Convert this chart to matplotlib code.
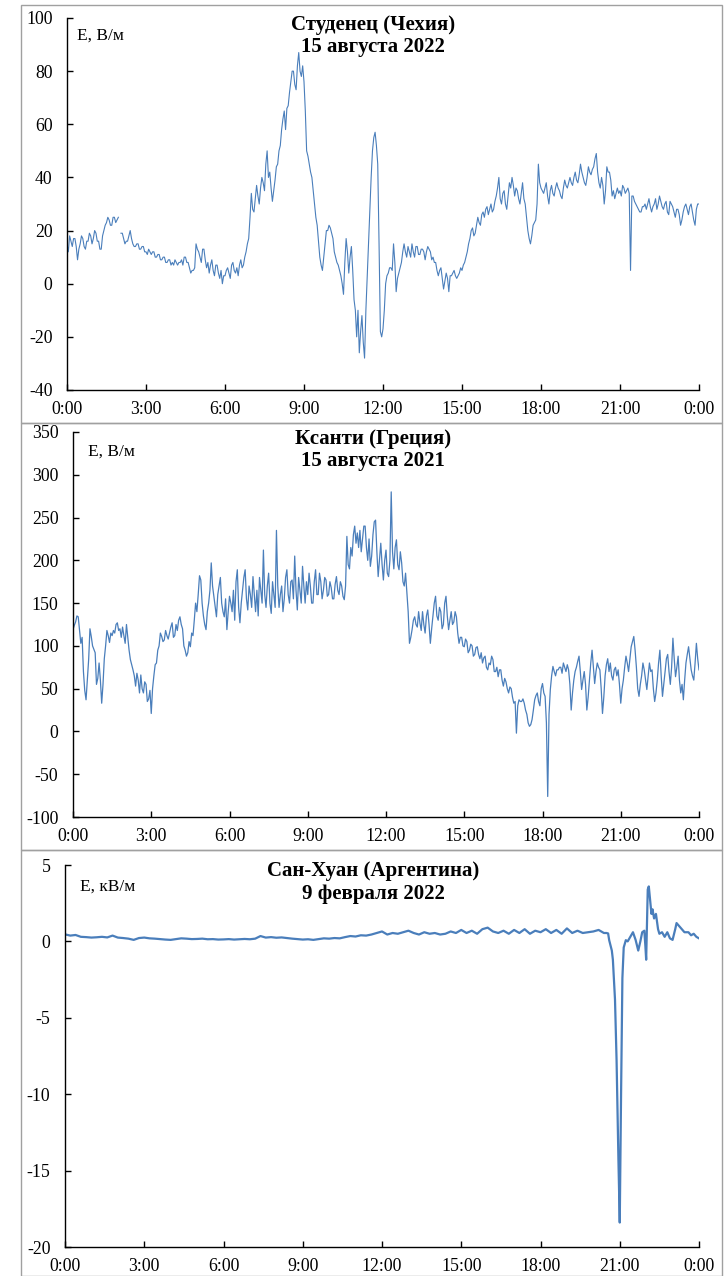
import numpy as np
import matplotlib
matplotlib.use("Agg")
import matplotlib.pyplot as plt
from matplotlib.patches import Rectangle

# ---------------- data ----------------
tick_hours = [0, 3, 6, 9, 12, 15, 18, 21, 24]
tick_labels = ["0:00", "3:00", "6:00", "9:00", "12:00", "15:00", "18:00", "21:00", "0:00"]

# Студенец (В/м), values every 0.05 h (20 per hour) + value at 24:00
studenets = [
    15, 12, 18, 16, 14, 17, 17, 14, 9, 13, 15, 18, 17, 14, 13, 16, 16, 19, 18, 15,
    17, 20, 19, 16, 16, 13, 13, 18, 20, 22, 23, 25, 24, 22, 22, 25, 25, 23, 24, 25,
    np.nan, 19, 19, 17, 15, 16, 16, 18, 20, 17, 15, 14, 14, 15, 15, 13, 13, 14, 14, 12,
    12, 11, 13, 12, 11, 12, 12, 10, 10, 11, 11, 9, 9, 10, 10, 8, 8, 9, 9, 7,
    8, 7, 9, 8, 7, 8, 8, 9, 7, 10, 10, 8, 8, 6, 4, 5, 5, 6, 15, 13,
    12, 10, 8, 13, 13, 9, 6, 8, 4, 7, 9, 5, 3, 7, 7, 4, 2, 5, 0, 3,
    3, 5, 6, 4, 2, 7, 8, 5, 4, 6, 3, 7, 9, 6, 7, 10, 12, 15, 17, 25,
    34, 28, 27, 32, 37, 33, 30, 36, 40, 38, 35, 45, 50, 40, 42, 36, 31, 35, 39, 44,
    45, 50, 52, 58, 62, 65, 58, 66, 67, 72, 76, 80, 80, 75, 73, 82, 87, 80, 78, 82,
    76, 65, 50, 48, 45, 42, 40, 35, 30, 25, 22, 16, 10, 7, 5, 10, 15, 20, 20, 22,
    21, 19, 17, 12, 10, 8, 7, 5, 3, 0, -4, 8, 17, 12, 4, 10, 14, 5, -6, -10,
    -20, -10, -26, -18, -12, -22, -28, -10, 2, 15, 28, 40, 50, 55, 57, 52, 45, 15, -18, -20,
    -17, -10, 0, 3, 4, 6, 6, 5, 15, 8, -3, 2, 4, 6, 8, 12, 15, 12, 10, 14,
    12, 10, 15, 12, 10, 14, 14, 11, 11, 13, 13, 12, 9, 12, 14, 13, 12, 9, 10, 8,
    8, 5, 3, 5, 6, 2, -2, 1, 4, 2, -3, 3, 3, 4, 5, 3, 2, 3, 4, 6,
    5, 7, 8, 10, 12, 15, 17, 20, 21, 18, 19, 22, 25, 23, 22, 26, 27, 25, 28, 29,
    26, 28, 30, 27, 28, 31, 33, 36, 40, 32, 30, 34, 35, 30, 28, 33, 38, 36, 40, 37,
    33, 36, 35, 32, 30, 34, 38, 32, 30, 25, 20, 17, 15, 18, 22, 23, 24, 30, 45, 38,
    36, 35, 34, 36, 38, 33, 30, 35, 37, 34, 33, 36, 38, 36, 35, 33, 32, 36, 39, 37,
    36, 38, 40, 38, 37, 40, 42, 39, 38, 41, 45, 42, 40, 38, 37, 40, 44, 42, 41, 43,
    44, 47, 49, 42, 38, 36, 40, 37, 30, 35, 44, 42, 42, 39, 33, 35, 32, 34, 36, 34,
    35, 33, 37, 36, 34, 35, 36, 34, 5, 33, 33, 31, 30, 29, 28, 27, 27, 29, 29, 30,
    28, 30, 32, 29, 27, 29, 30, 32, 28, 30, 33, 31, 29, 28, 30, 31, 27, 26, 31, 30,
    29, 27, 25, 28, 28, 26, 22, 24, 27, 29, 30, 28, 26, 29, 30, 27, 24, 22, 28, 30,
    30,
]

# Ксанти (В/м), values every 0.05 h (20 per hour) + value at 24:00
xanthi = [
    119, 124, 128, 135, 134, 118, 103, 110, 70, 48, 37, 60, 84, 120, 111, 100, 96, 92, 55, 62,
    80, 60, 33, 55, 85, 100, 118, 112, 104, 115, 112, 118, 115, 125, 127, 118, 120, 110, 122, 112,
    103, 125, 110, 95, 84, 78, 72, 65, 53, 68, 60, 45, 66, 50, 45, 58, 55, 35, 38, 48,
    21, 50, 65, 78, 80, 95, 100, 115, 111, 105, 107, 118, 112, 108, 115, 122, 127, 110, 112, 125,
    118, 130, 134, 125, 120, 100, 95, 88, 92, 105, 99, 115, 112, 130, 150, 140, 160, 182, 177, 150,
    135, 125, 119, 140, 150, 165, 197, 170, 158, 145, 134, 160, 170, 180, 150, 140, 134, 155, 119, 140,
    158, 150, 140, 165, 130, 175, 189, 145, 127, 150, 165, 180, 189, 155, 142, 170, 160, 145, 181, 160,
    140, 165, 135, 180, 165, 150, 212, 160, 145, 170, 185, 150, 138, 175, 160, 145, 235, 170, 145, 160,
    170, 140, 155, 180, 189, 160, 150, 175, 177, 155, 205, 165, 142, 180, 165, 150, 193, 170, 150, 175,
    160, 185, 170, 150, 150, 175, 189, 160, 160, 185, 175, 155, 165, 180, 177, 158, 160, 175, 168, 155,
    155, 172, 181, 165, 160, 175, 170, 158, 154, 170, 228, 195, 190, 215, 205, 230, 240, 220, 232, 215,
    235, 210, 225, 240, 240, 215, 200, 225, 193, 205, 230, 245, 247, 210, 181, 200, 220, 195, 177, 200,
    212, 185, 181, 200, 280, 210, 190, 215, 224, 195, 189, 210, 197, 175, 170, 185, 162, 140, 103, 110,
    119, 130, 134, 125, 122, 140, 127, 118, 140, 125, 115, 135, 142, 125, 103, 120, 135, 150, 158, 135,
    130, 145, 140, 120, 125, 150, 158, 135, 119, 130, 140, 125, 128, 140, 134, 115, 103, 110, 110, 100,
    99, 108, 105, 92, 95, 102, 100, 88, 90, 98, 99, 90, 85, 92, 80, 86, 88, 75, 72, 80,
    78, 88, 84, 70, 70, 75, 64, 72, 72, 60, 53, 62, 58, 50, 45, 52, 50, 40, 33, 35,
    -2, 30, 37, 35, 35, 38, 33, 25, 20, 10, 6, 8, 14, 25, 37, 42, 45, 35, 30, 50,
    56, 45, 41, 10, -76, 20, 49, 65, 76, 70, 65, 72, 72, 75, 75, 68, 80, 75, 70, 78,
    72, 55, 25, 45, 60, 70, 75, 82, 88, 70, 49, 60, 70, 55, 25, 40, 60, 80, 95, 75,
    56, 70, 80, 75, 72, 50, 21, 40, 65, 78, 85, 70, 80, 65, 60, 72, 75, 65, 72, 55,
    33, 50, 60, 75, 88, 80, 70, 85, 99, 105, 111, 95, 75, 50, 41, 55, 65, 80, 72, 60,
    49, 65, 80, 70, 72, 50, 35, 45, 60, 80, 95, 65, 41, 55, 70, 85, 90, 70, 55, 75,
    109, 85, 64, 75, 88, 60, 45, 55, 37, 60, 80, 90, 99, 85, 72, 65, 60, 80, 103, 85,
    72,
]

# Сан-Хуан (кВ/м): quiet part every 0.2 h from 0:00 to 20.4 h
sanjuan_quiet = [
    0.46, 0.38, 0.42, 0.30, 0.28,
    0.25, 0.27, 0.30, 0.26, 0.38,
    0.25, 0.22, 0.18, 0.10, 0.22,
    0.25, 0.20, 0.18, 0.15, 0.12,
    0.10, 0.15, 0.20, 0.18, 0.15,
    0.16, 0.18, 0.14, 0.15, 0.12,
    0.13, 0.15, 0.12, 0.14, 0.16,
    0.14, 0.18, 0.35, 0.25, 0.28,
    0.24, 0.26, 0.22, 0.18, 0.15,
    0.12, 0.14, 0.10, 0.15, 0.20,
    0.18, 0.22, 0.20, 0.28, 0.35,
    0.32, 0.40, 0.38, 0.45, 0.55,
    0.65, 0.45, 0.55, 0.50, 0.60,
    0.70, 0.55, 0.45, 0.60, 0.50,
    0.55, 0.45, 0.50, 0.65, 0.55,
    0.75, 0.55, 0.70, 0.50, 0.80,
    0.90, 0.65, 0.55, 0.70, 0.50,
    0.75, 0.55, 0.80, 0.50, 0.70,
    0.60, 0.80, 0.55, 0.75, 0.50,
    0.85, 0.55, 0.70, 0.55, 0.60,
    0.65, 0.75, 0.55,
]
# event part (irregular times, hours)
sanjuan_event_t = [20.5, 20.56, 20.6, 20.7, 20.74, 20.82, 20.88, 20.95, 21.0, 21.05,
                   21.1, 21.15, 21.23, 21.3, 21.4, 21.5, 21.6, 21.7, 21.78, 21.85,
                   21.93, 21.97, 22.0, 22.06, 22.1, 22.17, 22.2, 22.24, 22.3, 22.37,
                   22.45, 22.5, 22.6, 22.7, 22.8, 22.9, 23.0, 23.1, 23.15, 23.25,
                   23.35, 23.45, 23.6, 23.7, 23.8, 23.9, 24.0]
sanjuan_event_v = [0.55, 0.52, 0.08, -0.6, -1.2, -3.8, -7.8, -14.3, -18.4, -10.0,
                   -2.4, -0.4, 0.08, 0.0, 0.3, 0.6, 0.1, -0.6, 0.0, 0.6,
                   0.7, -0.3, -1.2, 3.4, 3.6, 2.3, 1.8, 2.1, 1.5, 1.8,
                   0.8, 0.5, 0.6, 0.3, 0.6, 0.2, 0.1, 0.8, 1.2, 1.0,
                   0.8, 0.6, 0.6, 0.4, 0.5, 0.3, 0.2]

# ---------------- figure ----------------
W, H = 727, 1276
fig = plt.figure(figsize=(W / 100, H / 100), dpi=100)
plt.rcParams['font.family'] = ['Liberation Serif', 'DejaVu Serif']

LINE = '#4a7ebb'


def fr(l, t, r, b):
    return [l / W, 1 - b / H, (r - l) / W, (b - t) / H]


# panel frames
for (t, b) in [(5, 423), (423, 850), (850, 1276)]:
    fig.add_artist(Rectangle((21 / W, 1 - b / H), (722 - 21) / W, (b - t) / H,
                             transform=fig.transFigure, fill=False,
                             edgecolor='#a0a0a0', lw=1.0))

panels = [
    dict(box=(67, 18, 699, 390), t=np.arange(len(studenets)) * 0.05, v=np.array(studenets, float),
         ylim=(-40, 100), ystep=20, lw=0.8,
         title=("Студенец (Чехия)", "15 августа 2022"), tx=373, ty1=25, ty2=47,
         unit="E, В/м", ux=77, uy=36),
    dict(box=(73, 432, 699, 817), t=np.arange(len(xanthi)) * 0.05, v=np.array(xanthi, float),
         ylim=(-100, 350), ystep=50, lw=0.9,
         title=("Ксанти (Греция)", "15 августа 2021"), tx=373, ty1=439, ty2=461,
         unit="E, В/м", ux=88, uy=452),
    dict(box=(65, 865, 699, 1247),
         t=np.concatenate([np.arange(len(sanjuan_quiet)) * 0.2, sanjuan_event_t]),
         v=np.concatenate([sanjuan_quiet, sanjuan_event_v]),
         ylim=(-20, 5), ystep=5, lw=1.6,
         title=("Сан-Хуан (Аргентина)", "9 февраля 2022"), tx=373, ty1=871, ty2=894,
         unit="E, кВ/м", ux=80, uy=887),
]

for p in panels:
    l, t, r, b = p['box']
    ax = fig.add_axes(fr(l, t, r, b))
    ax.plot(p['t'], p['v'], color=LINE, lw=p['lw'])
    ax.set_xlim(0, 24)
    ax.set_ylim(*p['ylim'])
    ax.set_xticks(tick_hours)
    ax.set_xticklabels(tick_labels)
    ax.set_yticks(np.arange(p['ylim'][0], p['ylim'][1] + 0.01, p['ystep']))
    ax.yaxis.set_major_formatter(matplotlib.ticker.FuncFormatter(lambda x, pos: f"{x:g}"))
    for s in ['top', 'right']:
        ax.spines[s].set_visible(False)
    for s in ['left', 'bottom']:
        ax.spines[s].set_color('black')
        ax.spines[s].set_linewidth(1.0)
    ax.tick_params(axis='both', direction='in', length=4, width=1.0, labelsize=12.8,
                   colors='black')
    ax.tick_params(axis='x', pad=8)
    ax.tick_params(axis='y', pad=10.5)
    ax.patch.set_alpha(0)
    fig.text(p['tx'] / W, 1 - p['ty1'] / H, p['title'][0], ha='center', va='center',
             fontsize=15, fontweight='bold')
    fig.text(p['tx'] / W, 1 - p['ty2'] / H, p['title'][1], ha='center', va='center',
             fontsize=15, fontweight='bold')
    fig.text(p['ux'] / W, 1 - p['uy'] / H, p['unit'], ha='left', va='center', fontsize=12.5)

fig.savefig('out.png', dpi=100, facecolor='white')
